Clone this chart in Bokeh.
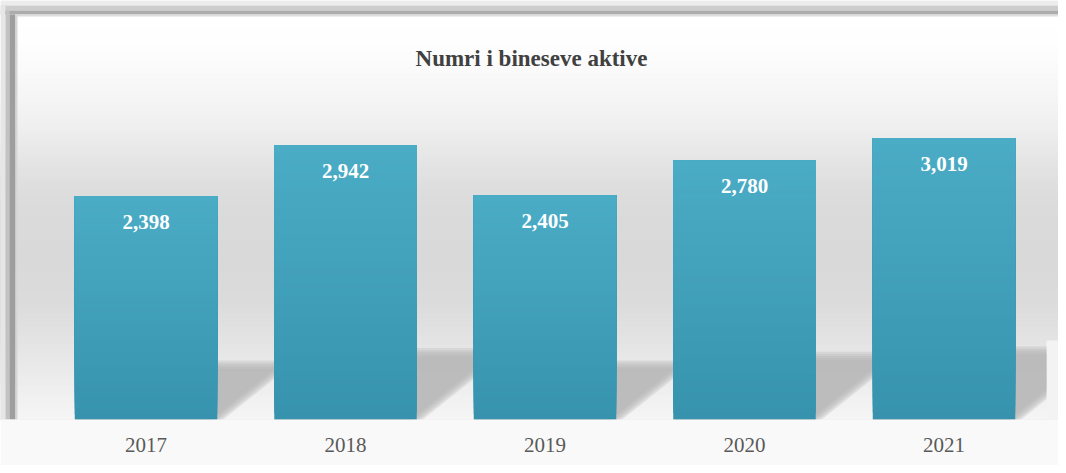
import numpy as np
from bokeh.plotting import figure
from bokeh.models import Range1d, FixedTicker, ColumnDataSource
from bokeh.core.properties import value
from bokeh.embed import file_html
from bokeh.resources import INLINE

# ---------------- data ----------------
years = ["2017", "2018", "2019", "2020", "2021"]
counts = [2398, 2942, 2405, 2780, 3019]
title_text = "Numri i bineseve aktive"

# ---------------- geometry ----------------
W, H = 1058, 465
FRAME_H = 419            # frame height in px (baseline at bottom)
PX_X = 199.5             # px per category
PX_Y = 0.0932            # px per count unit
X0 = -145.5 / PX_X
X1 = X0 + W / PX_X
Y1 = FRAME_H / PX_Y
BAR_W = 142.5 / PX_X
FONT = "Liberation Serif"


def dx(px):
    return X0 + px / PX_X


def dy(py):
    return (FRAME_H - py) / PX_Y


def hexg(v):
    v = int(round(max(0, min(255, v))))
    return "#%02x%02x%02x" % (v, v, v)


def mix(c1, c2, t):
    return "#%02x%02x%02x" % tuple(int(round(a + (b - a) * t)) for a, b in zip(c1, c2))


p = figure(width=W, height=H, x_range=Range1d(X0, X1), y_range=Range1d(0, Y1),
           output_backend="svg", toolbar_location=None, y_axis_location=None,
           min_border_left=0, min_border_right=0, min_border_top=0,
           min_border_bottom=H - FRAME_H)
p.xgrid.visible = False
p.ygrid.visible = False
p.outline_line_color = None
p.background_fill_color = "#f9f9f9"
p.border_fill_color = "#f9f9f9"

# ---------------- background gradient ----------------
stops_y = [16, 40, 70, 100, 130, 160, 190, 220, 260, 300, 330, 360, 390, 419]
stops_v = [255, 254, 250, 245, 238, 229, 221, 218, 217, 219, 225, 232, 239, 245]
rows = np.arange(0, FRAME_H, 3)
bg_top = [dy(r) for r in rows]
bg_col = [hexg(np.interp(r + 1.5, stops_y, stops_v)) for r in rows]
p.quad(left=X0, right=X1, bottom=0, top=bg_top, fill_color=bg_col, line_color=None)

# lighter floor area right of the plot area
p.quad(left=dx(1046), right=X1, bottom=0, top=dy(340), fill_color="#f3f3f3", line_color=None)

# ---------------- shadows ----------------
CLIP_X = dx(1046)


def clip_poly(xs, ys, xc):
    out_x, out_y = [], []
    n = len(xs)
    for k in range(n):
        ax_, ay = xs[k], ys[k]
        bx, by = xs[(k + 1) % n], ys[(k + 1) % n]
        a_in, b_in = ax_ <= xc, bx <= xc
        if a_in:
            out_x.append(ax_); out_y.append(ay)
        if a_in != b_in:
            t = (xc - ax_) / (bx - ax_)
            out_x.append(xc); out_y.append(ay + t * (by - ay))
    return out_x, out_y


SLOPE = 0.8
sh_xs, sh_ys = [], []
for i, v in enumerate(counts):
    x0, x1 = i - BAR_W / 2, i + BAR_W / 2
    h_px = 0.245 * v * PX_Y
    for s in (-6, -3, 0, 3, 6):
        hp = h_px - s * 0.7
        off = (hp / SLOPE) / PX_X
        sx = -s / PX_X
        xs = [x0, x1 + sx, x1 + sx + off, x0 + off]
        ys = [0, 0, hp / PX_Y, hp / PX_Y]
        cx, cy = clip_poly(xs, ys, CLIP_X)
        sh_xs.append(cx); sh_ys.append(cy)
p.patches(xs=sh_xs, ys=sh_ys, fill_color="#b2b2b2", fill_alpha=0.3, line_color=None)

# ---------------- bars (vertical gradient) ----------------
TOP_C = (75, 172, 198)
BOT_C = (55, 147, 173)
N = 40
bl, br, bb, bt, bc = [], [], [], [], []
for k in range(N):
    for i, v in enumerate(counts):
        bl.append(i - BAR_W / 2)
        br.append(i + BAR_W / 2)
        bb.append(v * k / N)
        bt.append(v)
        bc.append(mix(BOT_C, TOP_C, (k + 0.5) / N))
p.quad(left=bl, right=br, bottom=bb, top=bt, fill_color=bc, line_color=None)

# ---------------- value labels ----------------
src = ColumnDataSource(dict(x=list(range(len(years))), y=counts,
                            t=[f"{v:,}" for v in counts]))
p.text(x="x", y="y", text="t", source=src, text_color="white",
       text_font=value(FONT), text_font_style="bold", text_font_size="21px",
       text_align="center", text_baseline="middle", y_offset=26)

# ---------------- frame shadow ----------------
p.quad(left=X0, right=X1, bottom=dy(5), top=Y1, fill_color="#ececec", line_color=None)
p.quad(left=X0, right=X1, bottom=dy(10), top=dy(5), fill_color="#cdcdcd", line_color=None)
p.quad(left=X0, right=X1, bottom=dy(14), top=dy(10), fill_color="#acacac", line_color=None)
p.quad(left=X0, right=dx(5), bottom=0, top=dy(5), fill_color="#e6e6e6", line_color=None)
p.quad(left=dx(5), right=dx(9), bottom=0, top=dy(10), fill_color="#c2c2c2", line_color=None)
p.quad(left=dx(9), right=dx(15), bottom=0, top=dy(14), fill_color="#9e9e9e", line_color=None)
p.quad(left=dx(15), right=X1, bottom=dy(16), top=dy(14), fill_color="#dcdcdc", line_color=None)
p.quad(left=dx(15), right=dx(17), bottom=0, top=dy(14), fill_color="#d6d6d6", line_color=None)

# ---------------- title ----------------
p.text(x=[dx(531)], y=[dy(58)], text=[title_text], text_color="#404040",
       text_font=value(FONT), text_font_style="bold", text_font_size="23px",
       text_align="center", text_baseline="alphabetic")

# ---------------- x axis ----------------
ax = p.xaxis[0]
ax.ticker = FixedTicker(ticks=list(range(len(years))))
ax.major_label_overrides = {i: y for i, y in enumerate(years)}
ax.axis_line_color = None
ax.major_tick_line_color = None
ax.minor_tick_line_color = None
ax.major_tick_out = 0
ax.major_label_standoff = 18
ax.major_label_text_font = FONT
ax.major_label_text_font_size = "21px"
ax.major_label_text_color = "#595959"

open("out.html", "w").write(file_html(p, INLINE))
